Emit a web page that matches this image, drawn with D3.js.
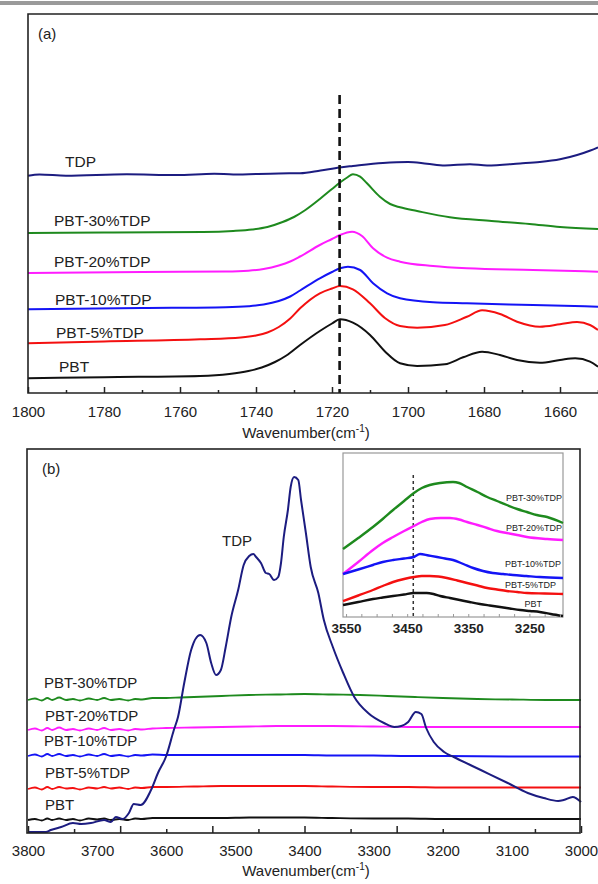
<!DOCTYPE html>
<html><head><meta charset="utf-8">
<script src="https://cdn.jsdelivr.net/npm/d3@7"></script>
<style>
body{margin:0;background:#fff}
svg{display:block}
text{font-family:"Liberation Sans",Arial,sans-serif;fill:#222}
</style></head>
<body><svg id="c" width="598" height="884"></svg>
<script>
// ---------- DATA ----------
// Panel (a): 1800–1650 cm-1, intensity in arbitrary units
const seriesNames = ["TDP","PBT-30%TDP","PBT-20%TDP","PBT-10%TDP","PBT-5%TDP","PBT"];
const seriesColors = ["#1c1c80","#1e8a1e","#ff1cff","#1414f5","#f41010","#111111"];

const tdpA = [[1800,217.2],[1797,218.6],[1790,217.3],[1774,218.7],[1761,217.9],[1751,219.3],[1746,218.5],[1734,219.6],[1728.4,219.7],[1723,222.5],[1718,225.5],[1714.5,227],[1706.6,230],[1700,231],[1695,229.3],[1690.3,227.5],[1683.7,228.8],[1679.2,227.6],[1670.5,229.6],[1665.3,231],[1660,233.7],[1655.5,238],[1652,242.5],[1650,245.7]];
const pbt30A = [[1800,160],[1780,160.5],[1754,161],[1746,162],[1741,163.5],[1737,166],[1733,171],[1730,176],[1727,183],[1723.2,194],[1720,204],[1717.9,210.5],[1716,215.5],[1714.5,218.7],[1712.6,216.3],[1710.8,209.7],[1707.4,196.3],[1704.7,189],[1702.1,185.7],[1697.6,182],[1689,175.7],[1678,172],[1668,169],[1660,166],[1650,164]];
const pbt20A = [[1800,120],[1770,121],[1748,121.5],[1742,122.3],[1738,124],[1734,127.5],[1731,131.5],[1728.4,136.5],[1723.2,148],[1720,154],[1717.9,158],[1714.7,161.3],[1712.1,157],[1709.2,144.7],[1705.5,135.3],[1702.1,131.3],[1693.4,127],[1684.5,124.7],[1667.1,123],[1650,121.3]];
const pbt10A = [[1800,83.7],[1770,85],[1748,85.8],[1742,86.8],[1738,88.5],[1734,92],[1731,96.5],[1728.4,102.5],[1723.2,114.7],[1720,121],[1717.9,124.7],[1715.8,126.3],[1712.6,123],[1709.2,109.7],[1705.5,99.7],[1702.1,94.7],[1693.4,90.7],[1684.5,89.7],[1667.1,88],[1650,86.3]];
const pbt5A = [[1800,49.7],[1780,51.5],[1754.7,53.7],[1744,55.5],[1740,57.5],[1737,60.5],[1734,66],[1731,74.5],[1728.4,84.7],[1723.2,99.7],[1720,104.5],[1717.9,107],[1714.5,103.7],[1710,89.7],[1706,74.7],[1702.1,67],[1697.6,65.3],[1690.3,68],[1684.5,76.3],[1680.5,82.7],[1675.8,79],[1671.3,71.3],[1665.3,66.3],[1660,68.7],[1655.5,71],[1652.1,68],[1650,63]];
const pbtA = [[1800,14.7],[1780,15.8],[1754.7,17],[1747,19],[1742,22],[1738.5,25.5],[1735,31],[1732,37.5],[1728.4,48],[1723.2,62],[1720,69.5],[1717.9,73.7],[1714.5,70.3],[1710,58],[1706,41.3],[1702.1,29.7],[1697.6,27],[1690.3,28.7],[1685.5,35.7],[1680.5,41.3],[1675.8,38],[1671.3,33],[1665.3,30.3],[1660,33],[1656,34.7],[1652.1,31.3],[1650,26.3]];
const markerA = 1718;        // dashed reference line (cm-1)
const markerATop = 298;      // top of dashed line (a.u.)
const ticksA = [1800,1780,1760,1740,1720,1700,1680,1660];
const minorTicksA = [1790,1770,1750,1730,1710,1690,1670,1650];

// Panel (b): 3800–3000 cm-1
const tdpB = [[3800,1],[3774,1],[3767,3],[3752,6],[3735,10],[3723,9],[3709,10],[3690,13],[3680,11],[3673,16],[3663,14],[3654,20],[3647,29],[3637,28],[3622,43],[3612,60],[3600,77],[3589,103],[3583,116],[3574,150],[3564,183],[3551,198],[3542,190],[3535,170],[3528,158],[3521,163],[3514,186],[3506,216],[3496,243],[3488,268],[3480,277],[3474,279],[3470,276],[3463,270],[3456,260],[3451,259],[3444,253],[3438,256],[3434,270],[3430,296],[3424,323],[3420,346],[3415,356],[3409,353],[3405,333],[3398,300],[3391,266],[3380,240],[3372,213],[3359,186],[3344,160],[3328,136],[3308,120],[3285,110],[3270,106],[3260,107],[3250,111],[3239,121],[3231,119],[3224,105],[3213,91],[3198,81],[3184,76],[3145,63],[3106,50],[3077,40],[3054,35],[3033,32],[3025,33],[3012,36],[3000,31]];
const pbt30B = [[3800,133],[3790,134.5],[3780,132.5],[3772,135],[3765,133],[3755,135.5],[3745,133],[3735,134],[3725,132.5],[3712,134.5],[3700,133],[3690,135],[3680,133],[3668,134],[3655,132.5],[3645,134],[3635,133.5],[3620,135],[3600,135],[3580,135.5],[3560,136],[3540,136.5],[3520,137],[3480,138],[3440,138.5],[3400,139],[3360,138.5],[3320,138],[3280,137],[3240,136],[3200,135],[3150,134],[3100,133.5],[3050,133],[3000,133]];
const pbt20B = [[3800,103],[3790,104.5],[3780,102.5],[3772,105],[3765,103],[3755,105.5],[3745,103],[3735,104],[3725,102.5],[3712,104.5],[3700,103],[3690,105],[3680,103],[3668,104],[3655,102.5],[3645,104],[3635,103.5],[3620,104.5],[3600,105],[3560,105.5],[3520,106],[3480,106.5],[3440,107],[3400,107],[3360,107],[3300,106.5],[3250,106],[3200,106],[3100,106],[3000,106]];
const pbt10B = [[3800,77],[3790,78.5],[3780,76.5],[3772,79],[3765,77],[3755,79],[3745,77],[3735,78],[3725,76.5],[3712,78.5],[3700,77],[3690,79],[3680,77],[3668,78],[3655,76.5],[3645,78],[3635,77.5],[3620,78.5],[3600,78],[3560,78],[3520,78],[3480,78],[3440,78],[3400,78],[3360,77.5],[3300,77.5],[3250,77],[3200,77],[3100,76.5],[3000,76.5]];
const pbt5B = [[3800,44],[3790,45.5],[3780,43.5],[3772,46],[3765,44],[3755,46],[3745,44.5],[3735,45],[3725,43.5],[3712,45.5],[3700,44.5],[3690,46],[3680,44.5],[3668,45.5],[3655,44],[3645,45.5],[3635,45],[3620,46],[3600,46],[3560,46.5],[3520,47],[3480,47],[3440,47],[3400,47],[3360,46.5],[3300,46],[3250,46],[3200,45.5],[3100,45.5],[3000,45.5]];
const pbtB = [[3800,13],[3790,14],[3780,12.5],[3772,14.5],[3765,13],[3755,14.5],[3745,13],[3735,14],[3725,12.5],[3712,14.5],[3700,13.5],[3690,14.5],[3680,13],[3668,14],[3655,13],[3645,14.5],[3635,14],[3620,15],[3600,15],[3560,15],[3520,15],[3480,15.5],[3440,15.5],[3400,15.5],[3360,15],[3300,14.5],[3250,14.5],[3200,14],[3100,14],[3000,14]];
const ticksB = [3800,3700,3600,3500,3400,3300,3200,3100,3000];

// Inset of panel (b): 3555–3195 cm-1
const pbt30I = [[3555,68],[3530,79],[3506,90],[3490,98],[3473,107],[3455,116],[3439,124],[3426,129],[3413,132],[3396,134],[3375,135],[3365,134],[3352,130],[3335,125],[3319,120],[3303,116],[3287,112],[3270,108],[3254,105],[3238,102],[3221,100],[3195,94]];
const pbt20I = [[3555,43],[3530,55],[3506,67],[3490,74],[3473,80],[3455,86],[3439,91],[3426,95],[3413,98],[3395,99],[3380,99],[3365,97.5],[3352,95],[3335,92],[3319,89],[3303,86],[3287,84],[3270,82],[3254,80],[3221,78],[3195,77]];
const pbt10I = [[3555,43],[3530,47.5],[3506,52],[3490,55],[3473,57],[3455,58.5],[3439,60],[3429,63],[3415,61.5],[3401,60],[3388,58.5],[3375,57],[3358,53],[3342,49],[3326,46],[3310,44],[3293,43],[3277,42],[3255,41],[3233,40],[3195,39]];
const pbt5I = [[3555,16],[3530,21.5],[3506,27],[3490,31],[3473,35],[3455,38],[3439,40],[3426,41],[3413,41],[3399,40.5],[3385,39],[3368,36.5],[3352,34],[3335,31.5],[3319,29],[3303,27.5],[3287,26],[3270,25],[3254,24],[3225,23.5],[3195,23]];
const pbtI = [[3555,12],[3530,15],[3506,18],[3490,19.5],[3473,21],[3455,22.5],[3439,24],[3418,24],[3407,23],[3396,21],[3380,19],[3364,17],[3348,15],[3331,13],[3315,11.5],[3298,10],[3282,8.5],[3265,7],[3249,6],[3233,5],[3215,3],[3195,1]];
const ticksI = [3550,3450,3350,3250];
const markerI = 3440;
const markerITop = 142;

// ---------- DRAW ----------
const svg = d3.select("#c");
const F = '"Liberation Sans",Arial,sans-serif';

svg.append("rect").attr("x",0).attr("y",1).attr("width",598).attr("height",4).attr("fill","#9a9a9a");

function title(g, cx, y){
  const t = g.append("text").attr("x",cx).attr("y",y).attr("text-anchor","middle").attr("font-size",15);
  t.append("tspan").text("Wavenumber(cm");
  t.append("tspan").attr("font-size",10).attr("dy",-6).text("-1");
  t.append("tspan").attr("dy",6).text(")");
}

// ----- Panel (a)
const xA = d3.scaleLinear().domain([1800,1650]).range([28,598]);
const yA = d3.scaleLinear().domain([0,379]).range([393,14]);
const lineA = d3.line().x(d=>xA(d[0])).y(d=>yA(d[1])).curve(d3.curveMonotoneX);
const gA = svg.append("g");
const dataA = [tdpA,pbt30A,pbt20A,pbt10A,pbt5A,pbtA];
dataA.forEach((s,i)=>{
  gA.append("path").attr("d",lineA(s)).attr("fill","none").attr("stroke",seriesColors[i]).attr("stroke-width",2);
});
gA.append("line").attr("x1",xA(markerA)).attr("x2",xA(markerA)).attr("y1",yA(markerATop)).attr("y2",yA(0))
  .attr("stroke","#111").attr("stroke-width",2.6).attr("stroke-dasharray","9,5");
// frame
gA.append("path").attr("d",`M598,${yA(379)}H${xA(1800)}V${yA(0)}H598`).attr("fill","none").attr("stroke","#222").attr("stroke-width",1.6);
// ticks
const axA = gA.append("g").attr("transform",`translate(0,${yA(0)})`);
axA.call(d3.axisBottom(xA).tickValues(ticksA).tickSizeInner(-6).tickSizeOuter(0).tickFormat(""));
const axAm = gA.append("g").attr("transform",`translate(0,${yA(0)})`);
axAm.call(d3.axisBottom(xA).tickValues(minorTicksA).tickSizeInner(-3).tickSizeOuter(0).tickFormat(""));
const axAl = gA.append("g").attr("transform",`translate(0,${yA(0)})`);
axAl.call(d3.axisBottom(xA).tickValues(ticksA).tickSize(0).tickPadding(13).tickFormat(d3.format("d")));
[axA,axAm,axAl].forEach(a=>{a.select(".domain").remove(); a.selectAll("line").attr("stroke","#222").attr("stroke-width",1.5);});
axAl.selectAll("text").attr("font-size",15).attr("font-family",F).attr("fill","#222");
title(gA, 306, 438);
gA.append("text").attr("x",38).attr("y",39).attr("font-size",15).text("(a)");
const labelLayoutA = [[65,9],[54,7],[54,6],[55,4],[56,5],[59,6]];
dataA.forEach((s,i)=>{
  gA.append("text").attr("x",labelLayoutA[i][0]).attr("y",yA(s[0][1])-labelLayoutA[i][1]).attr("font-size",15.5).text(seriesNames[i]);
});

// ----- Panel (b)
const xB = d3.scaleLinear().domain([3800,3000]).range([28,581]);
const yB = d3.scaleLinear().domain([0,384]).range([833,449]);
const lineB = d3.line().x(d=>xB(d[0])).y(d=>yB(d[1])).curve(d3.curveMonotoneX);
const gB = svg.append("g");
const dataB = [pbt30B,pbt20B,pbt10B,pbt5B,pbtB];
dataB.forEach((s,i)=>{
  gB.append("path").attr("d",lineB(s)).attr("fill","none").attr("stroke",seriesColors[i+1]).attr("stroke-width",1.8);
});
gB.append("path").attr("d",lineB(tdpB)).attr("fill","none").attr("stroke",seriesColors[0]).attr("stroke-width",2);
gB.append("rect").attr("x",27).attr("y",449).attr("width",553).attr("height",384).attr("fill","none").attr("stroke","#222").attr("stroke-width",1.6);
// tick marks (evenly spaced as in the figure) and labels
const tickMarksB = d3.range(13).map(k=>3800 - k*800/12);
const axBt = gB.append("g").attr("transform","translate(0,833)");
axBt.call(d3.axisBottom(xB).tickValues(tickMarksB.filter((d,k)=>k%2===0)).tickSizeInner(-7).tickSizeOuter(0).tickFormat(""));
const axBm = gB.append("g").attr("transform","translate(0,833)");
axBm.call(d3.axisBottom(xB).tickValues(tickMarksB.filter((d,k)=>k%2===1)).tickSizeInner(-4).tickSizeOuter(0).tickFormat(""));
const axBl = gB.append("g").attr("transform","translate(0,833)");
axBl.call(d3.axisBottom(xB).tickValues(ticksB).tickSize(0).tickPadding(12).tickFormat(d3.format("d")));
[axBt,axBm,axBl].forEach(a=>{a.select(".domain").remove(); a.selectAll("line").attr("stroke","#222").attr("stroke-width",1.5);});
axBl.selectAll("text").attr("font-size",15).attr("font-family",F).attr("fill","#222");
title(gB, 306, 876);
gB.append("text").attr("x",42).attr("y",474).attr("font-size",15).text("(b)");
gB.append("text").attr("x",222).attr("y",546).attr("font-size",15).text("TDP");
const labelLayoutB = [[44,12],[45,9],[44,10],[45,11],[45,10]];
dataB.forEach((s,i)=>{
  gB.append("text").attr("x",labelLayoutB[i][0]).attr("y",yB(s[0][1])-labelLayoutB[i][1]).attr("font-size",15).text(seriesNames[i+1]);
});

// ----- Inset
const xI = d3.scaleLinear().domain([3555,3195]).range([343,563]);
const yI = d3.scaleLinear().domain([0,164]).range([617,453]);
const lineI = d3.line().x(d=>xI(d[0])).y(d=>yI(d[1])).curve(d3.curveMonotoneX);
const gI = svg.append("g");
gI.append("rect").attr("x",343).attr("y",453).attr("width",220).attr("height",164).attr("fill","#fff").attr("stroke","#999").attr("stroke-width",1.2);
gI.append("line").attr("x1",xI(markerI)).attr("x2",xI(markerI)).attr("y1",yI(markerITop)).attr("y2",yI(0))
  .attr("stroke","#333").attr("stroke-width",1.5).attr("stroke-dasharray","3,3");
const dataI = [pbt30I,pbt20I,pbt10I,pbt5I,pbtI];
dataI.forEach((s,i)=>{
  gI.append("path").attr("d",lineI(s)).attr("fill","none").attr("stroke",seriesColors[i+1]).attr("stroke-width",2.4);
});
const axIt = gI.append("g").attr("transform","translate(0,617)");
axIt.call(d3.axisBottom(xI).tickValues(d3.range(3550,3195,-25)).tickSizeInner(-3).tickSizeOuter(0).tickFormat(""));
axIt.select(".domain").remove(); axIt.selectAll("line").attr("stroke","#999");
const axIl = gI.append("g").attr("transform","translate(0,617)");
axIl.call(d3.axisBottom(xI).tickValues(ticksI).tickSize(0).tickPadding(6).tickFormat(d3.format("d")));
axIl.select(".domain").remove();
axIl.selectAll("text").attr("font-size",13.5).attr("font-weight","bold").attr("font-family",F).attr("fill","#333");
const labelLayoutI = [[562,501],[562,531],[561,567],[556,588],[542,607]];
dataI.forEach((s,i)=>{
  gI.append("text").attr("x",labelLayoutI[i][0]).attr("y",labelLayoutI[i][1]).attr("text-anchor","end").attr("font-size",9).attr("fill","#333").text(seriesNames[i+1]);
});
</script></body></html>
